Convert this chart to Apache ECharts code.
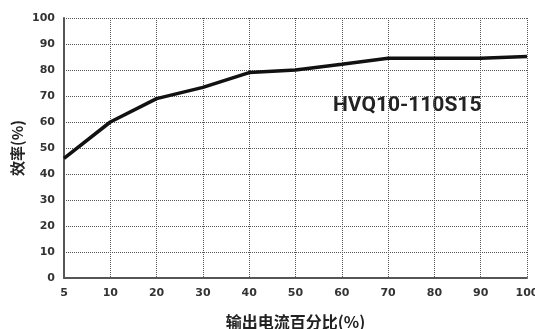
<!doctype html>
<html lang="zh">
<head>
    <meta charset="UTF-8">
    <title>效率曲线</title>
    <style>
        html, body { margin: 0; padding: 0; background: #fff; }
        #chart { width: 535px; height: 329px; }
    </style>
</head>
<body>
<div id="chart"></div>
<script src="https://cdn.jsdelivr.net/npm/echarts@6/dist/echarts.min.js"></script>
<script>
    // 输出电流百分比 (x categories)
    var loadPct = ['5', '10', '20', '30', '40', '50', '60', '70', '80', '90', '100'];
    // 效率 values
    var efficiency = [46, 60, 69, 73.3, 79, 80, 82.2, 84.5, 84.5, 84.5, 85.2];
    var modelName = 'HVQ10-110S15';

    var font = '"DejaVu Sans", "Noto Sans CJK SC", sans-serif';
    var myChart = echarts.init(document.getElementById('chart'));
    myChart.setOption({
        animation: false,
        grid: {
            left: 64,
            right: 8,
            top: 18,
            bottom: 51,
            outerBoundsMode: 'none',
            containLabel: false
        },
        graphic: [{
            type: 'text',
            left: 333,
            top: 95,
            style: {
                text: modelName,
                font: 'bold 21px "Roboto", "DejaVu Sans", sans-serif',
                fill: '#222'
            }
        }],
        xAxis: {
            type: 'category',
            data: loadPct,
            boundaryGap: false,
            name: '输出电流百分比(%)',
            nameLocation: 'middle',
            nameGap: 36,
            nameMoveOverlap: false,
            nameTextStyle: {
                fontFamily: '"Noto Sans CJK SC", sans-serif',
                fontWeight: 'bold',
                fontSize: 16,
                color: '#222'
            },
            axisLine: { lineStyle: { color: '#555', width: 2 } },
            axisTick: { show: false },
            axisLabel: {
                fontFamily: font,
                fontWeight: 'bold',
                fontSize: 11,
                color: '#333',
                margin: 10
            },
            splitLine: {
                show: true,
                lineStyle: { color: '#555', type: [1, 1], width: 1 }
            }
        },
        yAxis: {
            type: 'value',
            min: 0,
            max: 100,
            interval: 10,
            name: '效率(%)',
            nameLocation: 'middle',
            nameGap: 39,
            nameMoveOverlap: false,
            nameRotate: 90,
            nameTextStyle: {
                fontFamily: '"Noto Sans CJK SC", sans-serif',
                fontWeight: 'bold',
                fontSize: 15,
                color: '#222'
            },
            axisLine: { show: true, lineStyle: { color: '#555', width: 2 } },
            axisTick: { show: false },
            axisLabel: {
                fontFamily: font,
                fontWeight: 'bold',
                fontSize: 11,
                color: '#333',
                margin: 9
            },
            splitLine: {
                show: true,
                lineStyle: { color: '#555', type: [1, 1], width: 1 }
            }
        },
        series: [{
            type: 'line',
            data: efficiency,
            showSymbol: false,
            lineStyle: { color: '#111', width: 3.5 }
        }]
    });
</script>
</body>
</html>
